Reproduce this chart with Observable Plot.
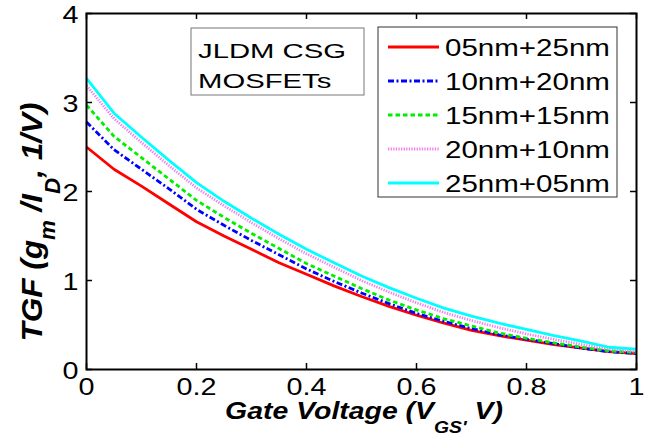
<!DOCTYPE html>
<html><head><meta charset="utf-8">
<script src="https://cdn.jsdelivr.net/npm/d3@7"></script>
<script src="https://cdn.jsdelivr.net/npm/@observablehq/plot@0.6"></script>
<style>
html,body{margin:0;padding:0;background:#fff;}
#chart svg{display:block;}
</style>
</head><body><div id="chart"></div>
<script>
// ---- data ----
const vgs = [0,0.05,0.1,0.15,0.2,0.25,0.3,0.35,0.4,0.45,0.5,0.55,0.6,0.65,0.7,0.75,0.8,0.85,0.9,0.95,1.0];
const tgf05 = [2.50,2.25,2.06,1.86,1.66,1.50,1.35,1.20,1.07,0.94,0.82,0.71,0.61,0.52,0.44,0.38,0.33,0.28,0.24,0.20,0.18];
const tgf10 = [2.78,2.47,2.25,2.03,1.80,1.62,1.45,1.29,1.13,0.99,0.86,0.74,0.63,0.54,0.46,0.39,0.34,0.29,0.24,0.20,0.18];
const tgf15 = [2.97,2.62,2.38,2.14,1.90,1.71,1.53,1.36,1.19,1.05,0.91,0.78,0.67,0.57,0.49,0.41,0.35,0.30,0.25,0.21,0.19];
const tgf20 = [3.19,2.82,2.55,2.29,2.04,1.84,1.65,1.47,1.30,1.15,1.00,0.87,0.75,0.64,0.55,0.47,0.40,0.34,0.28,0.23,0.20];
const tgf25 = [3.27,2.88,2.61,2.35,2.10,1.89,1.70,1.52,1.35,1.20,1.05,0.92,0.80,0.69,0.60,0.52,0.45,0.38,0.32,0.25,0.23];
const seriesNames = ["05nm+25nm","10nm+20nm","15nm+15nm","20nm+10nm","25nm+05nm"];
const seriesColors = ["#ff0000","#0000ff","#00ee00","#f080f0","#00ffff"];
const seriesDash = [null,"6,2.5,2,2.5","4.5,3","1.3,1.3",null];
const xTicks = [0,0.2,0.4,0.6,0.8,1];
const xTickLabels = ["0","0.2","0.4","0.6","0.8","1"];
const yTicks = [0,1,2,3,4];
const yTickLabels = ["0","1","2","3","4"];
const annotationLines = ["JLDM CSG","MOSFETs"];

// ---- layout ----
const W = 652, H = 438, mL = 86, mR = 16, mT = 13, mB = 69;
const plotW = W - mL - mR, plotH = H - mT - mB;
const tickLen = 6;

const allSeries = [tgf05, tgf10, tgf15, tgf20, tgf25];
const lineMarks = allSeries.map((vals, i) => Plot.line(vgs, {
  x: vgs, y: vals, stroke: seriesColors[i], strokeWidth: 2.8,
  strokeDasharray: seriesDash[i] || undefined, strokeLinecap: "butt", strokeLinejoin: "miter", curve: "linear"
}));

const plot = Plot.plot({
  width: W, height: H,
  marginLeft: mL, marginRight: mR, marginTop: mT, marginBottom: mB,
  x: {domain: [0, 1]},
  y: {domain: [0, 4]},
  style: {fontFamily: "'Liberation Sans', Arial, Helvetica, sans-serif", fontSize: "23px", color: "black", background: "white", overflow: "visible"},
  marks: [
    ...lineMarks,
    Plot.frame({stroke: "black", strokeWidth: 2}),
    Plot.tickX(xTicks, {x: d => d, insetTop: plotH - tickLen, stroke: "black", strokeWidth: 1.5}),
    Plot.tickX(xTicks, {x: d => d, insetBottom: plotH - tickLen, stroke: "black", strokeWidth: 1.5}),
    Plot.tickY(yTicks, {y: d => d, insetRight: plotW - tickLen, stroke: "black", strokeWidth: 1.5}),
    Plot.tickY(yTicks, {y: d => d, insetLeft: plotW - tickLen, stroke: "black", strokeWidth: 1.5}),
    Plot.axisX(xTicks, {anchor: "bottom", tickSize: 0, tickPadding: 9, label: null,
      tickFormat: d => xTickLabels[xTicks.indexOf(d)]}),
    Plot.axisY(yTicks, {anchor: "left", tickSize: 0, tickPadding: 8, label: null, dy: 2,
      tickFormat: d => yTickLabels[yTicks.indexOf(d)]})
  ]
});
document.getElementById("chart").appendChild(plot);

const svg = d3.select(plot);
// horizontal stretch of tick labels (the reference figure is stretched)
svg.selectAll('g[aria-label="x-axis tick label"] text, g[aria-label="y-axis tick label"] text').each(function() {
  const t = this.getAttribute("transform") || "";
  this.setAttribute("transform", t + " scale(1.25,1)");
});

const FONT = "'Liberation Sans', Arial, Helvetica, sans-serif";
function addText(parent, {x, y, parts, size, weight = "normal", style = "normal", anchor = "start", rotate = 0, targetW = null, scale = null, cross = 1}) {
  const t = parent.append("text")
    .attr("font-family", FONT).attr("font-size", size)
    .attr("font-weight", weight).attr("font-style", style)
    .attr("text-anchor", anchor).attr("fill", "black");
  for (const p of parts) {
    const ts = t.append("tspan").text(p.t);
    if (p.size) ts.attr("font-size", p.size);
    if (p.dy) ts.attr("dy", p.dy);
  }
  t.attr("transform", `translate(${x},${y}) rotate(${rotate})`);
  let s = scale;
  if (targetW) s = targetW / t.node().getComputedTextLength();
  t.attr("transform", `translate(${x},${y}) rotate(${rotate}) scale(${s || 1},${cross})`);
  return s;
}

const g = svg.append("g");
// annotation box
g.append("rect").attr("x", 191).attr("y", 28).attr("width", 173).attr("height", 67)
  .attr("fill", "white").attr("stroke", "#777").attr("stroke-width", 1);
const sA = addText(g, {x: 198, y: 58, parts: [{t: annotationLines[0]}], size: 21, targetW: 148});
addText(g, {x: 198, y: 88, parts: [{t: annotationLines[1]}], size: 21, scale: sA});

// legend
g.append("rect").attr("x", 378).attr("y", 27).attr("width", 239).attr("height", 170)
  .attr("fill", "white").attr("stroke", "#333").attr("stroke-width", 1);
let sL = null;
seriesNames.forEach((name, i) => {
  const cy = 47 + 34 * i;
  g.append("line").attr("x1", 388).attr("x2", 439).attr("y1", cy).attr("y2", cy)
    .attr("stroke", seriesColors[i]).attr("stroke-width", 2.8)
    .attr("stroke-dasharray", seriesDash[i]);
  if (i === 0) sL = addText(g, {x: 445, y: cy + 9, parts: [{t: name}], size: 23, targetW: 165});
  else addText(g, {x: 445, y: cy + 9, parts: [{t: name}], size: 23, scale: sL});
});

// axis titles
addText(g, {x: 364, y: 419, size: 22, weight: "bold", style: "italic", anchor: "middle", targetW: 278, cross: 1.05,
  parts: [{t: "Gate Voltage (V"}, {t: "GS'", size: 15, dy: 13}, {t: " V)", dy: -13}]});
addText(g, {x: 42, y: 222, size: 24, weight: "bold", style: "italic", anchor: "middle", rotate: -90, targetW: 239, cross: 1.25,
  parts: [{t: "TGF (g"}, {t: "m", size: 17, dy: 10}, {t: " /I", dy: -10}, {t: "D", size: 17, dy: 14}, {t: ", 1/V)", dy: -14}]});
</script>
</body></html>
